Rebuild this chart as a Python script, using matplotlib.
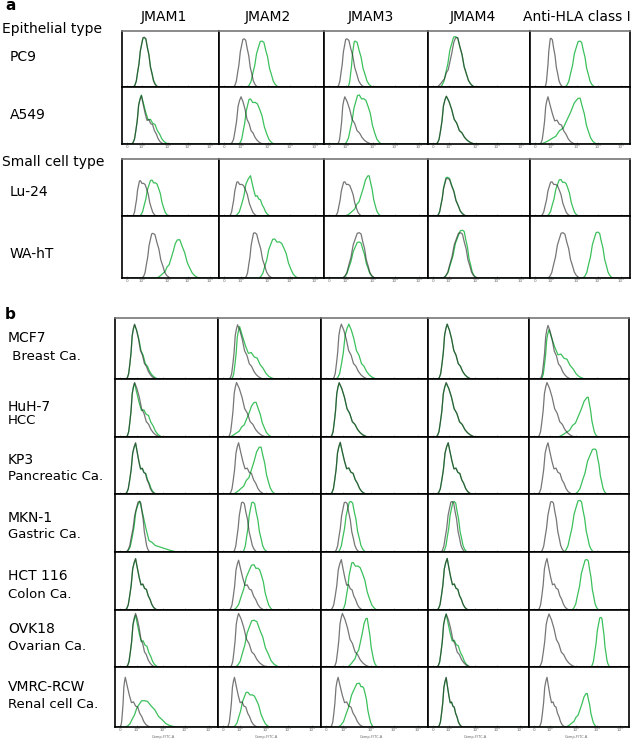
import numpy as np
import matplotlib
matplotlib.use("Agg")
import matplotlib.pyplot as plt

W, H = 638, 739

# column headers and row labels
columns = ["JMAM1", "JMAM2", "JMAM3", "JMAM4", "Anti-HLA class I"]
a_rows = ["PC9", "A549", "Lu-24", "WA-hT"]
b_rows = [("MCF7", " Breast Ca."), ("HuH-7", "HCC"), ("KP3", "Pancreatic Ca."),
          ("MKN-1", "Gastric Ca."), ("HCT 116", "Colon Ca."),
          ("OVK18", "Ovarian Ca."), ("VMRC-RCW", "Renal cell Ca.")]
tick_labels = ["0", "10²", "10³", "10⁴", "10⁵"]
tick_pos = [0.05, 0.21, 0.47, 0.68, 0.91]

# each cell: (start, peak, end, height, shape) as fractions of the cell
PC9_GRAY = [(.12, .23, .37, .89, 's'), (.14, .24, .37, .86, 's'), (.13, .22, .39, .86, 's'),
            (.09, .27, .46, .90, 'l'), (.15, .21, .33, .87, 's')]
PC9_GREEN = [(.12, .23, .375, .88, 's'), (.27, .41, .57, .82, 's'), (.23, .30, .47, .82, 's'),
             (.12, .27, .46, .90, 's'), (.35, .50, .65, .82, 's')]
A549_GRAY = [(.10, .20, .43, .84, 't'), (.11, .21, .42, .82, 'n'), (.13, .20, .46, .82, 'n'),
             (.08, .18, .46, .83, 'n'), (.10, .18, .45, .82, 't')]
A549_GREEN = [(.10, .20, .48, .85, 't'), (.19, .30, .52, .79, 'p'), (.20, .34, .55, .86, 'p'),
              (.08, .18, .46, .83, 'n'), (.11, .48, .67, .82, 'l')]
LU24_GRAY = [(.11, .19, .35, .62, 'p'), (.10, .18, .36, .60, 'p'), (.11, .20, .36, .60, 'p'),
             (.09, .19, .38, .66, 's'), (.11, .22, .40, .60, 'p')]
LU24_GREEN = [(.18, .31, .48, .63, 'p'), (.15, .30, .49, .70, 't'), (.21, .42, .55, .72, 'l'),
              (.09, .19, .38, .68, 's'), (.17, .31, .48, .64, 'p')]
WAHT_GRAY = [(.21, .32, .50, .72, 's'), (.25, .34, .51, .73, 's'), (.18, .34, .49, .73, 's'),
             (.15, .32, .48, .73, 's'), (.18, .33, .50, .73, 's')]
WAHT_GREEN = [(.36, .57, .80, .63, 'l'), (.38, .53, .75, .63, 'p'), (.18, .34, .49, .58, 's'),
              (.15, .34, .48, .77, 's'), (.53, .68, .83, .74, 's')]

MCF7_GRAY = [(.11, .19, .40, .89, 'n'), (.11, .19, .44, .88, 'n'), (.11, .19, .44, .89, 'n'),
             (.10, .19, .43, .89, 'n'), (.11, .19, .42, .87, 'n')]
MCF7_GREEN = [(.11, .19, .42, .88, 'n'), (.13, .21, .55, .85, 't'), (.14, .26, .52, .89, 'n'),
              (.10, .19, .43, .89, 'n'), (.12, .20, .56, .80, 't')]
HUH7_GRAY = [(.11, .19, .44, .93, 'n'), (.10, .18, .47, .93, 'n'), (.09, .17, .44, .93, 'n'),
             (.08, .18, .47, .93, 'n'), (.09, .18, .46, .93, 'n')]
HUH7_GREEN = [(.11, .19, .46, .92, 't'), (.11, .35, .53, .61, 'l'), (.09, .17, .44, .92, 'n'),
              (.08, .18, .47, .92, 'n'), (.29, .58, .69, .70, 'l')]
KP3_GRAY = [(.10, .20, .39, .89, 't'), (.11, .20, .45, .89, 't'), (.09, .18, .42, .90, 't'),
            (.09, .20, .43, .89, 't'), (.09, .19, .43, .89, 't')]
KP3_GREEN = [(.10, .20, .40, .88, 't'), (.15, .40, .56, .84, 'l'), (.09, .18, .42, .89, 't'),
             (.09, .20, .43, .89, 't'), (.46, .66, .78, .79, 's')]
MKN1_GRAY = [(.11, .24, .34, .87, 's'), (.15, .24, .38, .86, 's'), (.13, .23, .36, .86, 's'),
             (.13, .24, .37, .87, 's'), (.12, .23, .36, .87, 's')]
MKN1_GREEN = [(.11, .24, .60, .87, 'f'), (.24, .34, .48, .86, 's'), (.16, .28, .42, .87, 's'),
              (.15, .26, .39, .87, 's'), (.35, .51, .65, .89, 's')]
HCT_GRAY = [(.10, .20, .41, .88, 't'), (.11, .20, .45, .85, 't'), (.09, .19, .39, .86, 't'),
            (.09, .19, .40, .88, 't'), (.09, .18, .40, .88, 't')]
HCT_GREEN = [(.10, .20, .41, .87, 't'), (.15, .35, .53, .78, 'p'), (.20, .30, .52, .82, 'p'),
             (.09, .19, .40, .88, 't'), (.43, .58, .70, .87, 's')]
OVK_GRAY = [(.11, .20, .39, .93, 'n'), (.12, .20, .48, .93, 'n'), (.12, .20, .46, .93, 'n'),
            (.09, .18, .42, .92, 'n'), (.10, .20, .47, .92, 'n')]
OVK_GREEN = [(.11, .20, .42, .90, 't'), (.17, .35, .60, .82, 's'), (.25, .42, .53, .87, 'l'),
             (.09, .18, .42, .92, 't'), (.62, .72, .81, .87, 's')]
VMRC_GRAY = [(.05, .10, .34, .82, 't'), (.09, .16, .38, .82, 't'), (.09, .16, .40, .82, 't'),
             (.10, .18, .34, .82, 't'), (.10, .18, .36, .82, 't')]
VMRC_GREEN = [(.10, .28, .60, .44, 's'), (.15, .29, .50, .58, 'p'), (.16, .36, .49, .73, 'p'),
              (.10, .18, .34, .81, 't'), (.37, .57, .68, .57, 'l')]

a_gray = [PC9_GRAY, A549_GRAY, LU24_GRAY, WAHT_GRAY]
a_green = [PC9_GREEN, A549_GREEN, LU24_GREEN, WAHT_GREEN]
b_gray = [MCF7_GRAY, HUH7_GRAY, KP3_GRAY, MKN1_GRAY, HCT_GRAY, OVK_GRAY, VMRC_GRAY]
b_green = [MCF7_GREEN, HUH7_GREEN, KP3_GREEN, MKN1_GREEN, HCT_GREEN, OVK_GREEN, VMRC_GREEN]

# hand-drawn histogram profiles (rising edge, falling edge)
RISE_STEEP = [0, .03, .1, .25, .5, .78, .95, 1]
RISE_SOFT = [0, .04, .12, .27, .48, .7, .88, .98, 1]
RISE_LONG = [0, .03, .07, .12, .18, .26, .36, .5, .68, .86, 1]
FALL_SKEW = [1, .9, .72, .55, .41, .3, .21, .14, .08, .04, .015, 0]
FALL_SOFT = [1, .95, .82, .62, .42, .25, .13, .06, .02, 0]
FALL_SHOULDER = [1, .82, .62, .52, .48, .44, .38, .3, .2, .11, .05, .02, 0]
FALL_PLATEAU = [1, .9, .95, .86, .78, .6, .4, .22, .1, .04, 0]
FALL_TAIL = [1, .75, .45, .25, .16, .13, .11, .09, .07, .05, .03, .015, 0]
JAG = [0, .02, -.025, .03, -.015, .025, -.02, .01]
shapes = {'n': (RISE_STEEP, FALL_SKEW), 's': (RISE_SOFT, FALL_SOFT),
          't': (RISE_STEEP, FALL_SHOULDER), 'p': (RISE_SOFT, FALL_PLATEAU),
          'l': (RISE_LONG, FALL_SOFT), 'f': (RISE_STEEP, FALL_TAIL)}

GRAY = "#222222"
GREEN = "#3cc05c"

fig = plt.figure(figsize=(W / 100, H / 100), dpi=100)


def px_text(x, y, s, **kw):
    fig.text(x / W, 1 - y / H, s, **kw)


def curve(ax, cell, color, alpha):
    start, peak, end, h, kind = cell
    rise, fall = shapes[kind]
    x = np.concatenate([np.linspace(start, peak, len(rise)),
                        np.linspace(peak, end, len(fall))[1:]])
    y = np.array(rise + fall[1:], dtype=float)
    jag = np.resize(JAG, len(y))
    jag[0] = jag[-1] = 0
    y = np.clip(y + jag * (y > 0.15), 0, None) * h
    ax.plot(np.r_[0, x, 1], np.r_[0, y, 0], color=color, lw=0.9, alpha=alpha)


def grid(col_edges, row_edges, grays, greens, bottom_rows):
    for r in range(len(row_edges) - 1):
        for c in range(len(col_edges) - 1):
            x0, x1 = col_edges[c], col_edges[c + 1]
            y0, y1 = row_edges[r], row_edges[r + 1]
            ax = fig.add_axes([x0 / W, 1 - y1 / H, (x1 - x0) / W, (y1 - y0) / H])
            # green first, then a see-through gray so overlaps turn dark green
            curve(ax, greens[r][c], GREEN, 1.0)
            curve(ax, grays[r][c], GRAY, 0.62)
            ax.set_xlim(0, 1)
            ax.set_ylim(0, 1)
            ax.set_yticks([])
            ax.set_xticks(tick_pos)
            ax.tick_params(axis='x', length=1.5, width=0.5, color="#999999",
                           direction='in', pad=0.8, labelsize=3.0, labelcolor="#666666")
            if r not in bottom_rows:
                ax.set_xticklabels([])
            else:
                ax.set_xticklabels(tick_labels)
            for s in ax.spines.values():
                s.set_linewidth(1.2)
                s.set_color("black")
            if r == 0:
                ax.spines['top'].set_color("#777777")


# panel a
a_cols = [122, 219, 324, 428, 530, 630]
grid(a_cols, [31, 87, 144], a_gray[:2], a_green[:2], [1])
grid(a_cols, [159, 216, 278], a_gray[2:], a_green[2:], [1])

# panel b
b_cols = [115, 218, 321, 428, 529, 629]
b_edges = [318, 379, 437, 494, 552, 610, 667, 727]
grid(b_cols, b_edges, b_gray, b_green, [6])
for c in range(5):
    px_text(b_cols[c] + 0.47 * (b_cols[c + 1] - b_cols[c]), 736.8, "Comp-FITC-A",
            fontsize=2.6, color="#666666", ha="center", va="center")

# text labels
px_text(5, 6, "a", fontsize=11, fontweight="bold", va="center")
px_text(5, 314, "b", fontsize=11, fontweight="bold", va="center")
header_x = [164, 268, 371, 473, 577]
for name, x in zip(columns, header_x):
    px_text(x, 17, name, fontsize=10, ha="center", va="center")
px_text(2, 29, "Epithelial type", fontsize=10, va="center")
px_text(2, 162, "Small cell type", fontsize=10, va="center")
for name, y in zip(a_rows, [57, 115, 192, 254]):
    px_text(10, y, name, fontsize=10, va="center")

b_y = [(338, 357), (407, 420), (460, 477), (518, 535), (576, 594), (629, 647), (687, 704)]
for (l1, l2), (y1, y2) in zip(b_rows, b_y):
    px_text(8, y1, l1, fontsize=10, va="center")
    px_text(8, y2, l2, fontsize=9.5, va="center")

fig.savefig("out.png", dpi=100)
